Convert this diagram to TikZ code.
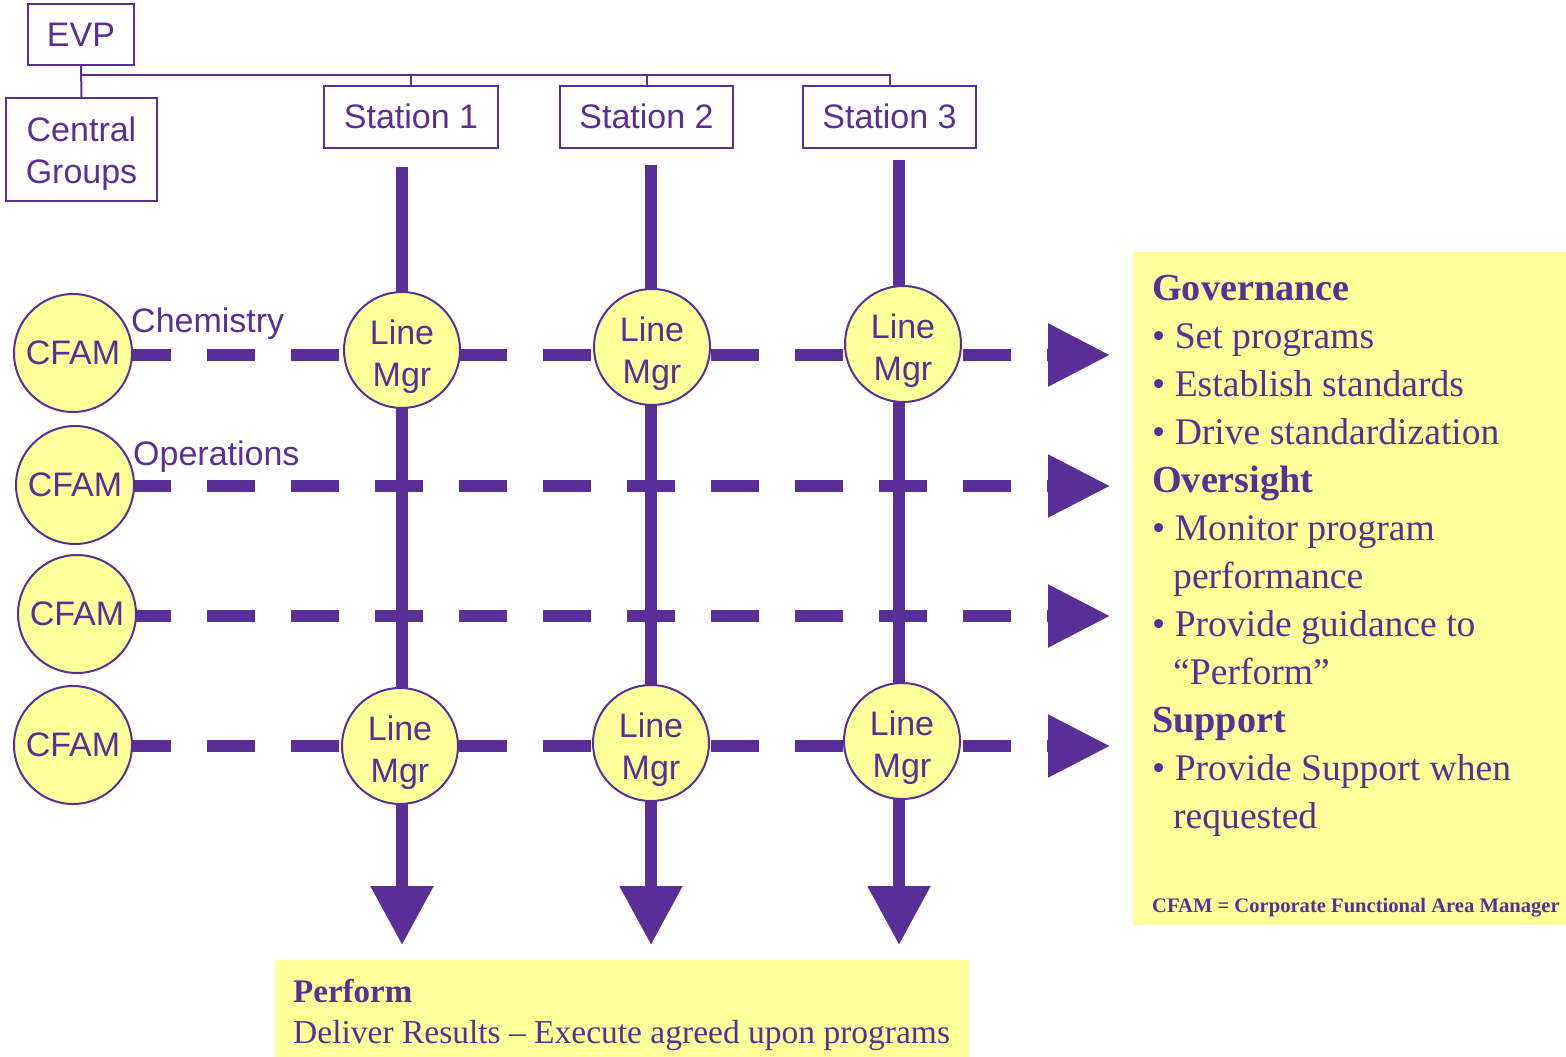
\documentclass[tikz,border=0pt]{standalone}
\usepackage{fontspec}
\setmainfont{Liberation Serif}
\newfontfamily\arialf{Liberation Sans}
\usetikzlibrary{arrows.meta}
\definecolor{pur}{RGB}{89,47,151}
\definecolor{yel}{RGB}{255,255,153}
\newcommand{\tallstrut}[1]{\rule{0pt}{#1}}
\begin{document}
\begin{tikzpicture}[x=1pt,y=-1pt,
  box/.style={draw=pur, line width=2pt, text=pur, font=\arialf\fontsize{34}{42}\selectfont, inner sep=0pt, align=center},
  tree/.style={draw=pur, line width=2pt},
  cfam/.style={circle, draw=pur, line width=2pt, fill=yel, text=pur, minimum size=118pt, inner sep=0pt, align=center, font=\arialf\fontsize{34}{42}\selectfont},
  lmgr/.style={cfam, minimum size=116pt},
  vline/.style={draw=pur, line width=12pt, -{Triangle[width=60pt,length=59pt]}},
  hline/.style={draw=pur, line width=12pt, dash pattern=on 48pt off 36pt, -{Triangle[width=60pt,length=62pt]}},
  lbl/.style={text=pur, font=\arialf\fontsize{34}{42}\selectfont, anchor=base west, inner sep=0pt},
  rtxt/.style={text=pur, font=\fontsize{37.6}{48}\selectfont, anchor=base west, inner sep=0pt},
  rhead/.style={text=pur, font=\bfseries\fontsize{38.2}{48}\selectfont, anchor=base west, inner sep=0pt},
  panel/.style={fill=yel, inner sep=0pt, anchor=north west},
]
\useasboundingbox (0,0) rectangle (1566,1057);

% yellow panels
\node[panel, minimum width=433pt, minimum height=673pt] (gov) at (1133,252) {};
\node[panel, minimum width=694pt, minimum height=97pt] (perf) at (275,960) {};

% org chart
\node[box, minimum width=106pt, minimum height=61pt] (evp) at (81,34.5) {EVP};
\node[box, minimum width=151pt, minimum height=103pt] (cg) at (81.5,149.5) {\tallstrut{33pt}Central\\Groups};
\node[box, minimum width=174pt, minimum height=62pt] (s1) at (411,116.5) {Station 1};
\node[box, minimum width=173pt, minimum height=62pt] (s2) at (646.5,116.5) {Station 2};
\node[box, minimum width=173pt, minimum height=62pt] (s3) at (889.5,116.5) {Station 3};
\coordinate (j0) at (81,75);
\draw[tree] (evp.south) -- (cg.north);
\draw[tree] (j0) -- (j0 -| s3.north) -- (s3.north);
\draw[tree] (j0 -| s1.north) -- (s1.north);
\draw[tree] (j0 -| s2.north) -- (s2.north);

% horizontal dashed arrows
\coordinate (h1s) at (39,355);  \coordinate (h1e) at (1110,355);
\coordinate (h2s) at (39,486);  \coordinate (h2e) at (1110,486);
\coordinate (h3s) at (39,616);  \coordinate (h3e) at (1110,616);
\coordinate (h4s) at (39,746);  \coordinate (h4e) at (1110,746);
\draw[hline] (h1s) -- (h1e);
\draw[hline] (h2s) -- (h2e);
\draw[hline] (h3s) -- (h3e);
\draw[hline] (h4s) -- (h4e);

% vertical arrows
\coordinate (t1) at (402,167); \coordinate (b1) at (402,945);
\coordinate (t2) at (651,165); \coordinate (b2) at (651,945);
\coordinate (t3) at (899,160); \coordinate (b3) at (899,945);
\draw[vline] (t1) -- (b1);
\draw[vline] (t2) -- (b2);
\draw[vline] (t3) -- (b3);

% CFAM circles
\node[cfam] (c1) at (73,353) {CFAM};
\node[cfam] (c2) at (75,485) {CFAM};
\node[cfam] (c3) at (77,614) {CFAM};
\node[cfam] (c4) at (73,745) {CFAM};

% Line Mgr circles
\node[lmgr] (m11) at (402,350) {\tallstrut{38.5pt}Line\\Mgr};
\node[lmgr] (m12) at (652,347) {\tallstrut{38.5pt}Line\\Mgr};
\node[lmgr] (m13) at (903,344) {\tallstrut{38.5pt}Line\\Mgr};
\node[lmgr] (m41) at (400,746) {\tallstrut{38.5pt}Line\\Mgr};
\node[lmgr] (m42) at (651,743) {\tallstrut{38.5pt}Line\\Mgr};
\node[lmgr] (m43) at (902,741) {\tallstrut{38.5pt}Line\\Mgr};

% labels
\node[lbl] (chem) at (131,332) {Chemistry};
\node[lbl] (oper) at (133,465) {Operations};

% right panel text
\node[rhead] (g0) at (1152,300) {Governance};
\node[rtxt] (g1) at (1152,348) {\textbullet\ Set programs};
\node[rtxt] (g2) at (1152,396) {\textbullet\ Establish standards};
\node[rtxt] (g3) at (1152,444) {\textbullet\ Drive standardization};
\node[rhead] (o0) at (1152,492) {Oversight};
\node[rtxt] (o1) at (1152,540) {\textbullet\ Monitor program};
\node[rtxt] (o2) at (1173,588) {performance};
\node[rtxt] (o3) at (1152,636) {\textbullet\ Provide guidance to};
\node[rtxt] (o4) at (1173,684) {“Perform”};
\node[rhead] (u0) at (1152,732) {Support};
\node[rtxt] (u1) at (1152,780) {\textbullet\ Provide Support when};
\node[rtxt] (u2) at (1173,828) {requested};
\node[rhead, font=\bfseries\fontsize{20.6}{24}\selectfont] (note) at (1152,912) {CFAM = Corporate Functional Area Manager};

% bottom panel text
\node[rhead, font=\bfseries\fontsize{33}{40}\selectfont] (p0) at (293,1002) {Perform};
\node[rtxt, font=\fontsize{33.5}{40}\selectfont] (p1) at (293,1043) {Deliver Results – Execute agreed upon programs};
\end{tikzpicture}
\end{document}
